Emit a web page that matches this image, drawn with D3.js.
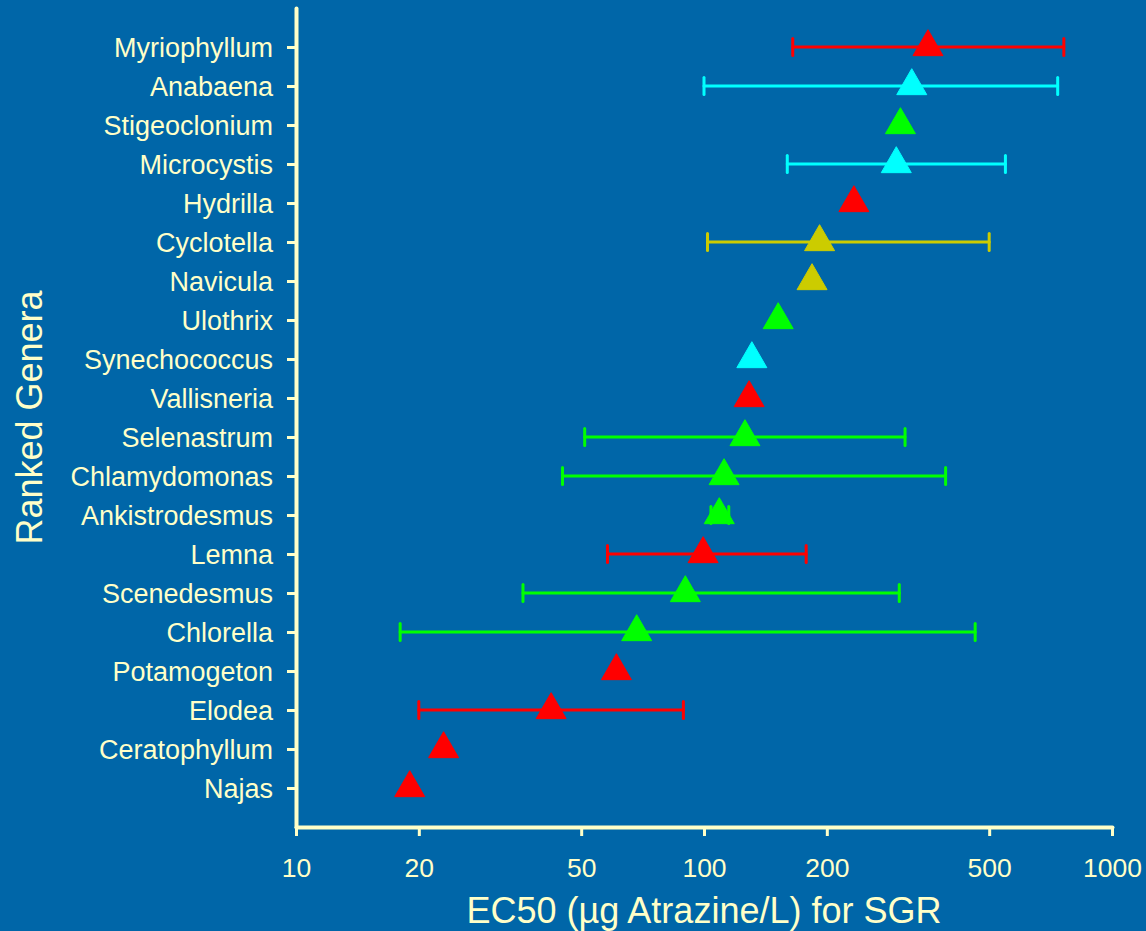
<!DOCTYPE html>
<html>
<head>
<meta charset="utf-8">
<script src="https://cdn.jsdelivr.net/npm/d3@7"></script>
<style>
  html, body { margin: 0; padding: 0; background: #0066a8; }
  svg { display: block; }
  text { font-family: "Liberation Sans", Arial, Helvetica, sans-serif; fill: #ffffc8; }
</style>
</head>
<body>
<svg id="chart" width="1146" height="931"></svg>
<script>
// Genera ranked by atrazine sensitivity (top = most tolerant)
const genera = [
  "Myriophyllum", "Anabaena", "Stigeoclonium", "Microcystis", "Hydrilla",
  "Cyclotella", "Navicula", "Ulothrix", "Synechococcus", "Vallisneria",
  "Selenastrum", "Chlamydomonas", "Ankistrodesmus", "Lemna", "Scenedesmus",
  "Chlorella", "Potamogeton", "Elodea", "Ceratophyllum", "Najas"
];
// Geometric-mean EC50 for specific growth rate (µg atrazine / L)
const ec50 = [354, 323, 303, 296, 233, 192, 184, 152, 131, 129,
              126, 112, 109, 99.5, 90, 68.4, 61, 42.2, 23, 19];
// Range of EC50 values within each genus (null = single value)
const lower = [165, 100, null, 160, null, 102, null, null, null, null,
               51, 45, 104, 58, 36, 18, null, 20, null, null];
const upper = [762, 736, null, 548, null, 500, null, null, null, null,
               311, 391, 115, 178, 301, 462, null, 89, null, null];
// Organism group of each genus
const group = ["macrophyte", "cyanobacterium", "green alga", "cyanobacterium", "macrophyte",
               "diatom", "diatom", "green alga", "cyanobacterium", "macrophyte",
               "green alga", "green alga", "green alga", "macrophyte", "green alga",
               "green alga", "macrophyte", "macrophyte", "macrophyte", "macrophyte"];
// X axis ticks
const xTicks = [10, 20, 50, 100, 200, 500, 1000];

const rows = genera.map((g, i) => ({
  name: g, value: ec50[i], lo: lower[i], hi: upper[i], group: group[i]
}));

const svg = d3.select("#chart");
const axisColour = "#ffffc8";

const colour = d3.scaleOrdinal()
  .domain(["macrophyte", "cyanobacterium", "green alga", "diatom"])
  .range(["#ff0000", "#00ffff", "#00ff00", "#cccc00"]);

const x = d3.scaleLog().domain([10, 1000]).range([296, 1112]);
const y = d3.scalePoint().domain(genera).range([8, 827]).padding(1);

// Axes
const xAxis = svg.append("g")
  .attr("transform", "translate(0,827)")
  .call(d3.axisBottom(x).tickValues(xTicks).tickFormat(d3.format("d"))
        .tickSize(9).tickSizeOuter(0).tickPadding(12));
const yAxis = svg.append("g")
  .attr("transform", "translate(296,0)")
  .call(d3.axisLeft(y).tickSize(9).tickSizeOuter(0).tickPadding(14));

[xAxis, yAxis].forEach(a => {
  a.select(".domain").attr("stroke", axisColour).attr("stroke-width", 4)
    .attr("stroke-linecap", "round");
  a.selectAll(".tick line").attr("stroke", axisColour).attr("stroke-width", 3);
  a.selectAll(".tick text").attr("fill", axisColour);
});
xAxis.selectAll(".tick text").attr("dy", "1.08em").style("font-size", "26.5px");
yAxis.selectAll(".tick text").attr("dy", "0.36em").style("font-size", "27px");

// Axis titles
svg.append("text")
  .attr("x", x(100)).attr("y", 923)
  .attr("text-anchor", "middle")
  .style("font-size", "36px")
  .text("EC50 (µg Atrazine/L) for SGR");
svg.append("text")
  .attr("transform", `translate(42,${(8 + 827) / 2}) rotate(-90)`)
  .attr("text-anchor", "middle")
  .style("font-size", "36px")
  .text("Ranked Genera");

// Error bars with end caps
const withRange = rows.filter(d => d.lo != null && d.hi != null);
const bars = svg.append("g").selectAll("g").data(withRange).join("g")
  .attr("stroke", d => colour(d.group))
  .attr("stroke-width", 3)
  .attr("stroke-linecap", "round");
bars.append("line")
  .attr("x1", d => x(d.lo)).attr("x2", d => x(d.hi))
  .attr("y1", d => y(d.name)).attr("y2", d => y(d.name));
bars.append("line")
  .attr("x1", d => x(d.lo)).attr("x2", d => x(d.lo))
  .attr("y1", d => y(d.name) - 8.5).attr("y2", d => y(d.name) + 8.5);
bars.append("line")
  .attr("x1", d => x(d.hi)).attr("x2", d => x(d.hi))
  .attr("y1", d => y(d.name) - 8.5).attr("y2", d => y(d.name) + 8.5);

// Triangle markers at the EC50
const tri = d3.symbol().type(d3.symbolTriangle).size(390);
svg.append("g").selectAll("path").data(rows).join("path")
  .attr("d", tri)
  .attr("transform", d => `translate(${x(d.value)},${y(d.name)})`)
  .attr("fill", d => colour(d.group))
  .attr("stroke", d => colour(d.group))
  .attr("stroke-width", 1)
  .attr("stroke-linejoin", "round");
</script>
</body>
</html>
